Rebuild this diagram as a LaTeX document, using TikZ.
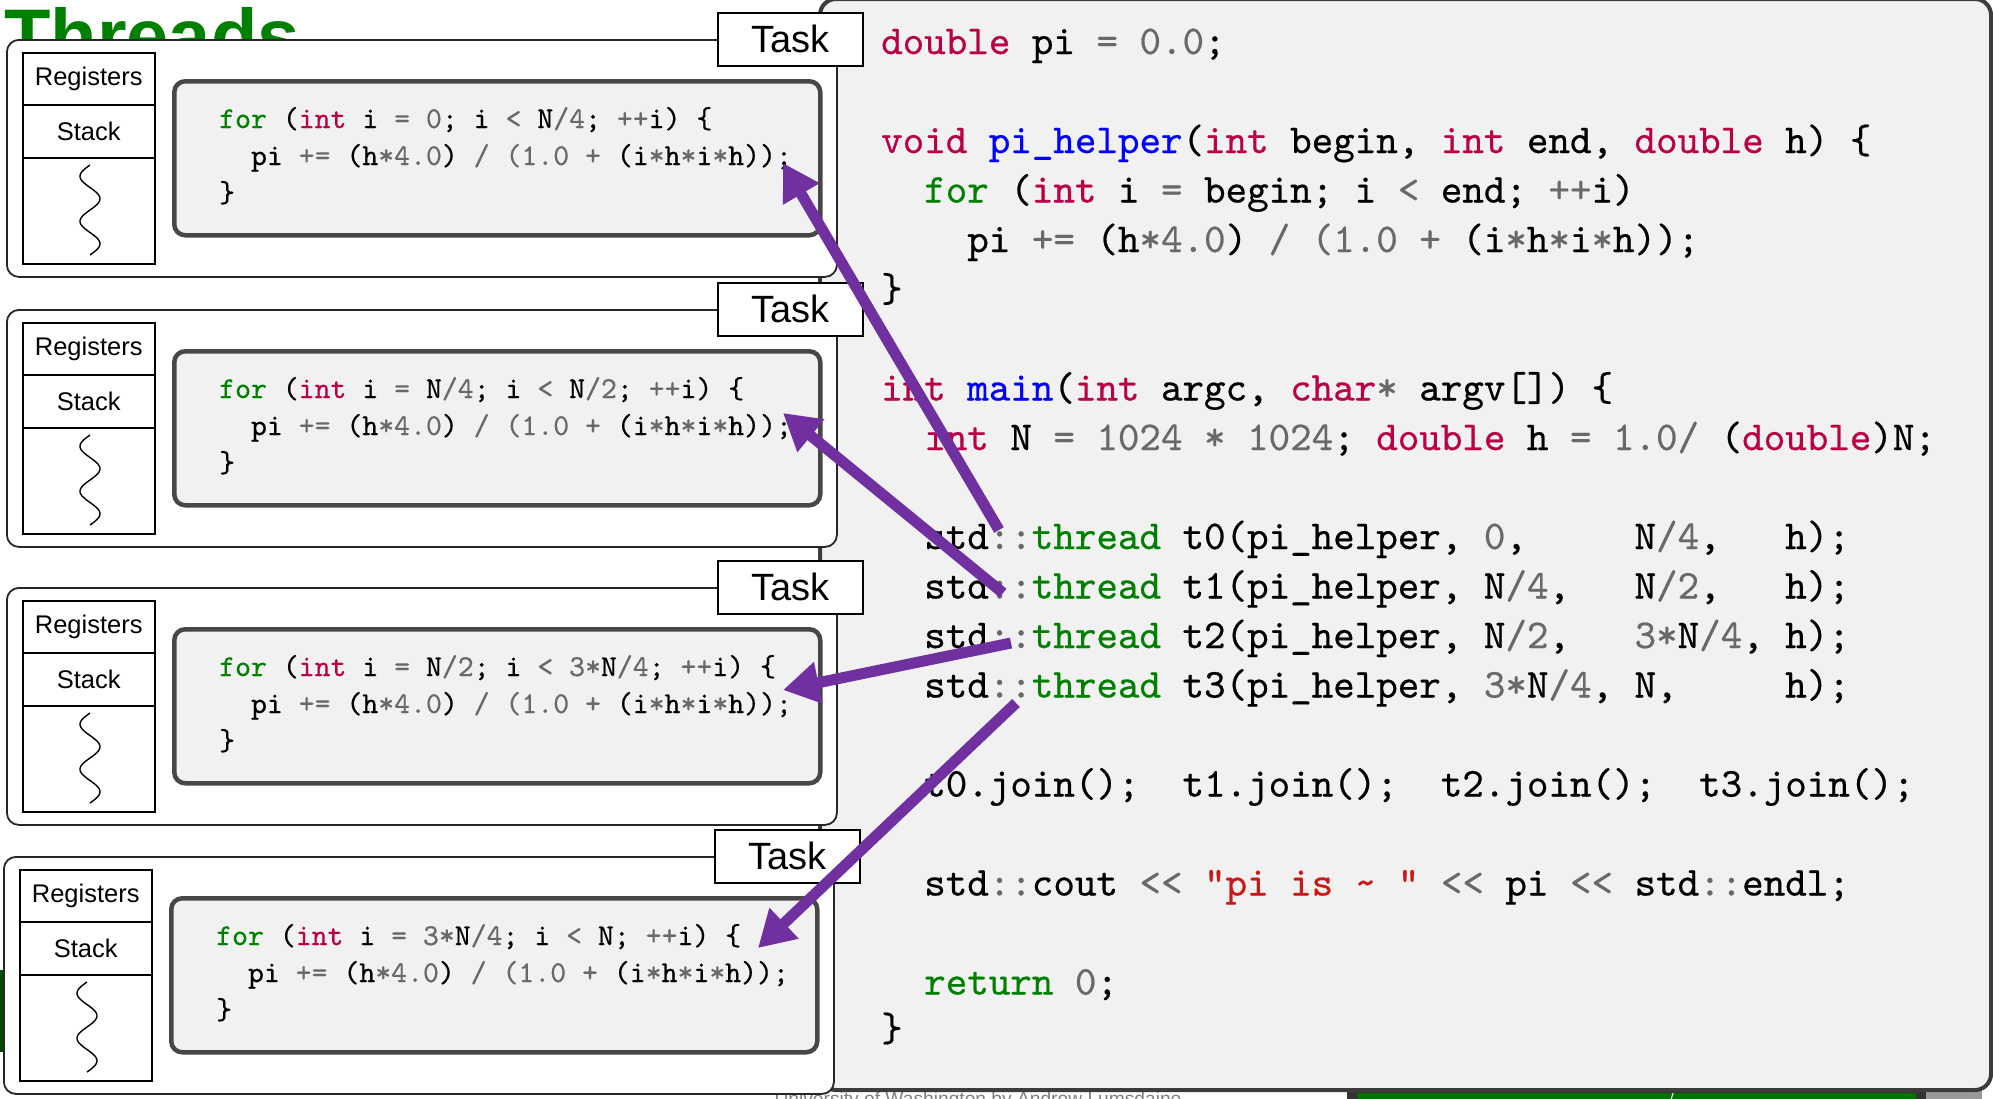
\documentclass[tikz,border=0pt]{standalone}
\usepackage{fontspec}
\usetikzlibrary{arrows.meta}
\newfontfamily\sansf{Liberation Sans}
\newfontfamily\codef{lmmono10-regular.otf}[FakeBold=0.5]
\definecolor{kwc}{RGB}{185,0,70}
\definecolor{opc}{RGB}{105,105,105}
\definecolor{gnc}{RGB}{0,128,0}
\definecolor{blc}{RGB}{0,0,255}
\definecolor{stc}{RGB}{200,25,25}
\definecolor{panelfill}{RGB}{241,241,241}
\definecolor{panelline}{RGB}{60,60,60}
\definecolor{arrowc}{RGB}{112,48,160}
\definecolor{titlec}{RGB}{0,128,0}
\newcommand\Ckw[1]{\textcolor{kwc}{#1}}
\newcommand\Cop[1]{\textcolor{opc}{#1}}
\newcommand\Cgn[1]{\textcolor{gnc}{#1}}
\newcommand\Cbl[1]{\textcolor{blc}{#1}}
\newcommand\Cst[1]{\textcolor{stc}{#1}}
\newcommand\codeM{\fontsize{41}{49.5}\selectfont\codef\frenchspacing}
\newcommand\codeT{\fontsize{30.3}{37}\selectfont\codef\frenchspacing}
\tikzset{
 outerbox/.style={draw=black!85, line width=1.8pt, fill=white, rounded corners=12pt, inner sep=0pt, anchor=north west},
 tasklabel/.style={draw=black, line width=1.5pt, fill=white, inner sep=0pt, anchor=north west, font=\sansf\fontsize{38}{42}\selectfont},
 regcell/.style={draw=black, line width=1.5pt, fill=white, inner sep=0pt, anchor=north west, minimum width=132pt, font=\sansf\fontsize{25.5}{30}\selectfont},
 codebox/.style={draw=black!72, line width=4.5pt, fill=panelfill, rounded corners=11pt, inner sep=0pt, anchor=north west},
 codeline/.style={anchor=base west, inner sep=0pt, font=\codeT},
 mainline/.style={anchor=base west, inner sep=0pt, font=\codeM},
 threadarrow/.style={draw=arrowc, line width=11pt, -{Triangle[length=36pt,width=40pt]}},
 wave/.style={draw=black, line width=1.4pt},
 panelbox/.style={draw=panelline, line width=4pt, fill=panelfill, rounded corners=16pt, inner sep=0pt, anchor=north west},
}
% #1 name, #2 dx, #3 dy, #4 first code line
\newcommand\taskbox[4]{%
\begin{scope}[shift={(#2,#3)}]
 \node[outerbox, minimum width=830pt, minimum height=237pt] (outer#1) at (6,39) {};
 \node[tasklabel, minimum width=145pt, minimum height=53pt] (task#1) at (717,12) {Task};
 \node[regcell, minimum height=52pt] (reg#1) at (22,52) {Registers};
 \node[regcell, minimum height=53pt] (stk#1) at (22,104) {Stack};
 \node[regcell, minimum height=106pt] (wav#1) at (22,157) {};
 \draw[wave] plot[domain=0:90, samples=80, smooth] ({90-10*sin(8*\x)}, {165+\x});
 \node[codebox, minimum width=646pt, minimum height=154pt] (cb#1) at (172,79) {};
 \node[codeline] (ca#1) at (219,128) {#4};
 \node[codeline] (cc#1) at (219,165) {\ \ pi \Cop{+=} (h\Cop{*4.0}) \Cop{/ (1.0 +} (i\Cop{*}h\Cop{*}i\Cop{*}h));};
 \node[codeline] (cd#1) at (219,202) {\}};
\end{scope}}
\begin{document}
\begin{tikzpicture}[x=1pt, y=-1pt]
\useasboundingbox (0,0) rectangle (1993,1098);
\clip (0,0) rectangle (1993,1098);
\fill[white] (0,0) rectangle (1993,1098);
% slide background
\node[anchor=base west, inner sep=0pt, text=titlec, font=\sansf\bfseries\fontsize{76}{80}\selectfont] (title) at (4,62) {Threads};
\node[anchor=base, inner sep=0pt, text=black!50, font=\sansf\fontsize{19.2}{22}\selectfont] (footer) at (978,1105) {University of Washington by Andrew Lumsdaine};
\fill[black!80] (1347,1091) rectangle (1926,1100);
\fill[black!40] (1926,1091) rectangle (1982,1100);
\fill[black!55!green] (1358,1093) rectangle (1916,1100);
\draw[white, line width=1pt] (1673,1093) -- (1671,1100);
\fill[black!70!green] (0,970) rectangle (4,1052);
% main code panel
\node[panelbox, minimum width=1171pt, minimum height=1091pt] (panel) at (818,-3) {};
\node[mainline] (m0) at (881,54) {\Ckw{double} pi \Cop{=} \Cop{0.0};};
\node[mainline] (m2) at (881,153) {\Ckw{void} \Cbl{pi\_helper}(\Ckw{int} begin, \Ckw{int} end, \Ckw{double} h) \{};
\node[mainline] (m3) at (881,202.5) {\ \ \Cgn{for} (\Ckw{int} i \Cop{=} begin; i \Cop{<} end; \Cop{++}i)};
\node[mainline] (m4) at (881,252) {\ \ \ \ pi \Cop{+=} (h\Cop{*4.0}) \Cop{/ (1.0 +} (i\Cop{*}h\Cop{*}i\Cop{*}h));};
\node[mainline] (m5) at (881,301.5) {\}};
\node[mainline] (m7) at (881,400.5) {\Ckw{int} \Cbl{main}(\Ckw{int} argc, \Ckw{char}\Cop{*} argv[]) \{};
\node[mainline] (m8) at (881,450) {\ \ \Ckw{int} N \Cop{= 1024 * 1024}; \Ckw{double} h \Cop{= 1.0/} (\Ckw{double})N;};
\node[mainline] (m10) at (881,549) {\ \ std\Cop{::}\Cgn{thread} t0(pi\_helper, \Cop{0},\ \ \ \ \ N\Cop{/4},\ \ \ h);};
\node[mainline] (m11) at (881,598.5) {\ \ std\Cop{::}\Cgn{thread} t1(pi\_helper, N\Cop{/4},\ \ \ N\Cop{/2},\ \ \ h);};
\node[mainline] (m12) at (881,648) {\ \ std\Cop{::}\Cgn{thread} t2(pi\_helper, N\Cop{/2},\ \ \ \Cop{3*}N\Cop{/4}, h);};
\node[mainline] (m13) at (881,697.5) {\ \ std\Cop{::}\Cgn{thread} t3(pi\_helper, \Cop{3*}N\Cop{/4}, N,\ \ \ \ \ h);};
\node[mainline] (m15) at (881,796.5) {\ \ t0.join();\ \ t1.join();\ \ t2.join();\ \ t3.join();};
\node[mainline] (m17) at (881,895.5) {\ \ std\Cop{::}cout \Cop{<<} \Cst{\char"22 pi is \textasciitilde{} \char"22} \Cop{<<} pi \Cop{<<} std\Cop{::}endl;};
\node[mainline] (m19) at (881,994.5) {\ \ \Cgn{return} \Cop{0};};
\node[mainline] (m20) at (881,1041) {\}};
% task boxes
\taskbox{1}{0}{0}{\Cgn{for} (\Ckw{int} i \Cop{=} \Cop{0}; i \Cop{<} N\Cop{/4}; \Cop{++}i) \{}
\taskbox{2}{0}{270}{\Cgn{for} (\Ckw{int} i \Cop{=} N\Cop{/4}; i \Cop{<} N\Cop{/2}; \Cop{++}i) \{}
\taskbox{3}{0}{548}{\Cgn{for} (\Ckw{int} i \Cop{=} N\Cop{/2}; i \Cop{<} \Cop{3*}N\Cop{/4}; \Cop{++}i) \{}
\taskbox{4}{-3}{817}{\Cgn{for} (\Ckw{int} i \Cop{=} \Cop{3*}N\Cop{/4}; i \Cop{<} N; \Cop{++}i) \{}
% arrows
\coordinate (a0s) at (999,530);
\coordinate (a0e) at (783,163);
\coordinate (a1s) at (1003,593);
\coordinate (a1e) at (783,413);
\coordinate (a2s) at (1011,643);
\coordinate (a2e) at (783,690);
\coordinate (a3s) at (1016,703);
\coordinate (a3e) at (758,948);
\draw[threadarrow] (a0s) -- (a0e);
\draw[threadarrow] (a1s) -- (a1e);
\draw[threadarrow] (a2s) -- (a2e);
\draw[threadarrow] (a3s) -- (a3e);
\end{tikzpicture}
\end{document}
